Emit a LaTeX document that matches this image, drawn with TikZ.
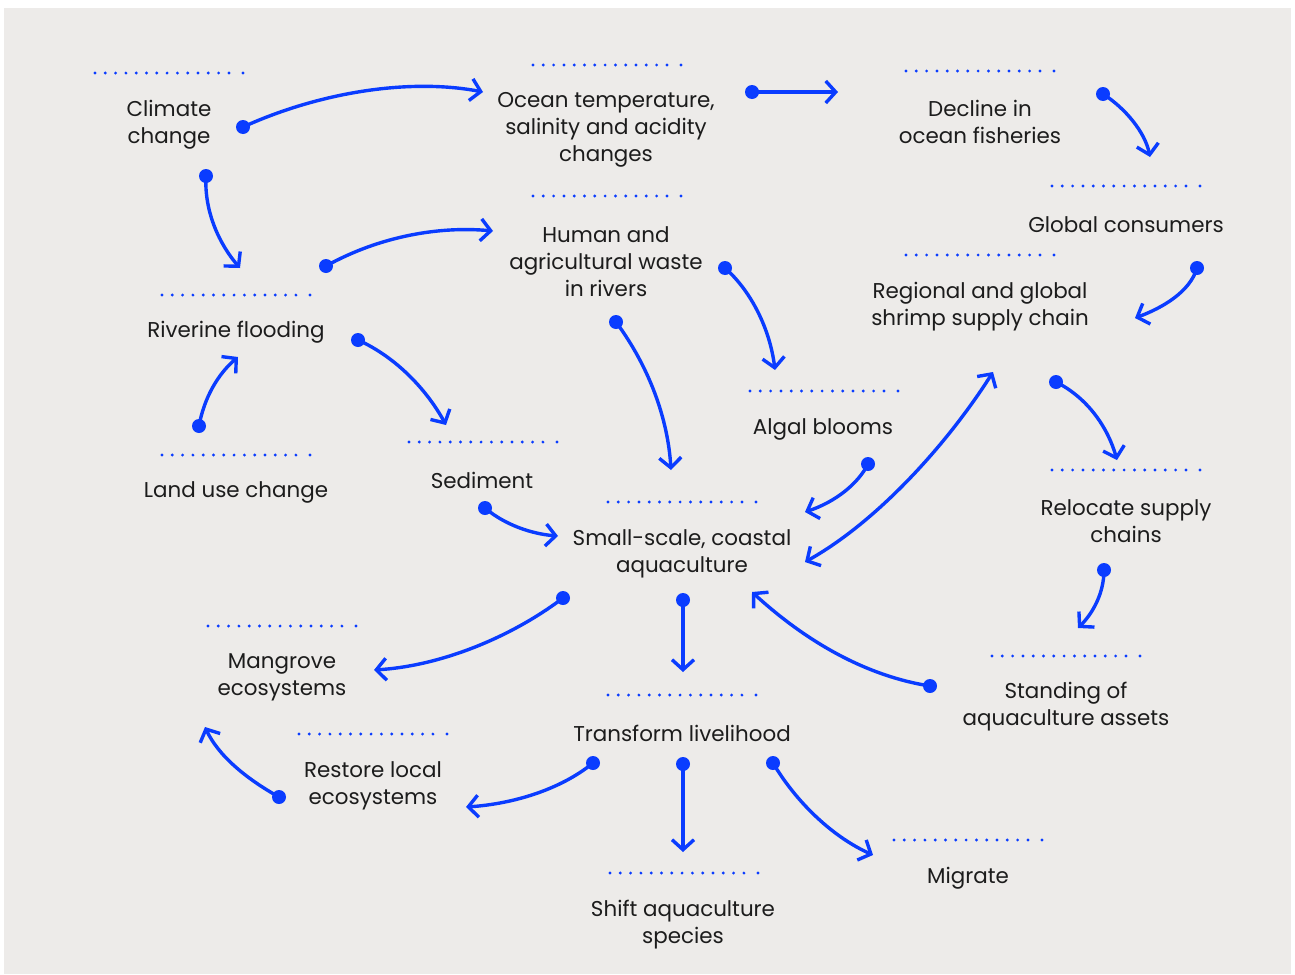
\documentclass[tikz,border=0pt]{standalone}
\usepackage{fontspec}
\setmainfont{Poppins}
\usetikzlibrary{arrows.meta}
\definecolor{bg}{HTML}{EDEBE9}
\definecolor{lk}{HTML}{0A3CFF}
\definecolor{tx}{HTML}{1C1C1C}
\begin{document}
\begin{tikzpicture}[x=1bp,y=-1bp,
  lbl/.style={align=center,text=tx,font=\fontsize{21.5}{27}\selectfont,inner sep=0pt,yshift=-2.5bp},
  conn/.style={draw=lk,line width=3.4bp,-{Straight Barb[length=10bp,width=22bp]}},
  both/.style={draw=lk,line width=3.4bp,{Straight Barb[length=10bp,width=22bp]}-{Straight Barb[length=10bp,width=22bp]}},
  dotrow/.pic={\foreach \i in {0,...,13}{\fill[lk] (-74+\i*10.3,0) circle (1.6);}\fill[lk] (74,0) circle (1.6);}
]
\useasboundingbox (0,0) rectangle (1295,975);
\fill[white] (0,0) rectangle (1295,975);
\fill[bg] (4,8) rectangle (1291,974);

% nodes
\node[lbl] (cc) at (169,122) {Climate\\change};
\node[lbl] (ot) at (606,127) {Ocean temperature,\\salinity and acidity\\changes};
\node[lbl] (df) at (980,119) {Decline in\\ocean fisheries};
\node[lbl] (gc) at (1126,222) {Global consumers};
\node[lbl] (rg) at (980,304) {Regional and global\\shrimp supply chain};
\node[lbl] (hw) at (606,259) {Human and\\agricultural waste\\in rivers};
\node[lbl] (rf) at (236,330) {Riverine flooding};
\node[lbl] (lu) at (236,490) {Land use change};
\node[lbl] (se) at (482,478) {Sediment};
\node[lbl] (ab) at (823,427) {Algal blooms};
\node[lbl] (sc) at (682,551) {Small-scale, coastal\\aquaculture};
\node[lbl] (rs) at (1126,519) {Relocate supply\\chains};
\node[lbl] (sa) at (1066,704) {Standing of\\aquaculture assets};
\node[lbl] (mg) at (282,675) {Mangrove\\ecosystems};
\node[lbl] (rl) at (373,783) {Restore local\\ecosystems};
\node[lbl] (tl) at (682,731) {Transform livelihood};
\node[lbl] (mi) at (968,876) {Migrate};
\node[lbl] (sh) at (683,922) {Shift aquaculture\\species};

% dotted rows
\pic at (169,73) {dotrow};
\pic at (607,65) {dotrow};
\pic at (980,71) {dotrow};
\pic at (1126,186) {dotrow};
\pic at (980,255) {dotrow};
\pic at (607,196) {dotrow};
\pic at (236,295) {dotrow};
\pic at (236,455) {dotrow};
\pic at (483,442) {dotrow};
\pic at (824,391) {dotrow};
\pic at (682,502) {dotrow};
\pic at (1126,470) {dotrow};
\pic at (1066,656) {dotrow};
\pic at (282,626) {dotrow};
\pic at (373,734) {dotrow};
\pic at (682,695) {dotrow};
\pic at (968,840) {dotrow};
\pic at (684,873) {dotrow};

% connector end points
\coordinate (a1s) at (243,127);  \coordinate (a1e) at (483,92);
\coordinate (a2s) at (752,92);   \coordinate (a2e) at (838,92);
\coordinate (a3s) at (1103,94);  \coordinate (a3e) at (1150,157);
\coordinate (a4s) at (1197,268); \coordinate (a4e) at (1135,318);
\coordinate (a5s) at (206,176);  \coordinate (a5e) at (240,268);
\coordinate (a6s) at (326,266);  \coordinate (a6e) at (493,231);
\coordinate (a7s) at (616,322);  \coordinate (a7e) at (671,470);
\coordinate (a8s) at (725,268);  \coordinate (a8e) at (775,370);
\coordinate (a9s) at (358,340);  \coordinate (a9e) at (446,425);
\coordinate (a10s) at (199,426); \coordinate (a10e) at (238,357);
\coordinate (a11s) at (485,508); \coordinate (a11e) at (558,536);
\coordinate (a12s) at (868,464); \coordinate (a12e) at (805,512);
\coordinate (a13s) at (805,562); \coordinate (a13e) at (993,372);
\coordinate (a14s) at (1056,382); \coordinate (a14e) at (1117,460);
\coordinate (a15s) at (1104,570); \coordinate (a15e) at (1078,628);
\coordinate (a16s) at (930,686); \coordinate (a16e) at (752,592);
\coordinate (a17s) at (563,598); \coordinate (a17e) at (374,670);
\coordinate (a18s) at (683,600); \coordinate (a18e) at (683,672);
\coordinate (a19s) at (279,797); \coordinate (a19e) at (205,727);
\coordinate (a20s) at (593,763); \coordinate (a20e) at (466,807);
\coordinate (a21s) at (683,764); \coordinate (a21e) at (683,852);
\coordinate (a22s) at (773,763); \coordinate (a22e) at (873,855);

% connectors
\draw[conn] (a1s) .. controls (320,92) and (410,78) .. (a1e);
\draw[conn] (a2s) -- (a2e);
\draw[conn] (a3s) .. controls (1125,108) and (1145,132) .. (a3e);
\draw[conn] (a4s) .. controls (1190,292) and (1162,308) .. (a4e);
\draw[conn] (a5s) .. controls (204,212) and (220,245) .. (a5e);
\draw[conn] (a6s) .. controls (380,236) and (440,226) .. (a6e);
\draw[conn] (a7s) .. controls (650,368) and (668,420) .. (a7e);
\draw[conn] (a8s) .. controls (752,292) and (770,330) .. (a8e);
\draw[conn] (a9s) .. controls (398,358) and (428,392) .. (a9e);
\draw[conn] (a10s) .. controls (204,398) and (218,374) .. (a10e);
\draw[conn] (a11s) .. controls (505,525) and (532,534) .. (a11e);
\draw[conn] (a12s) .. controls (858,484) and (835,502) .. (a12e);
\draw[both] (a13s) .. controls (880,520) and (950,440) .. (a13e);
\draw[conn] (a14s) .. controls (1088,398) and (1108,428) .. (a14e);
\draw[conn] (a15s) .. controls (1104,594) and (1092,614) .. (a15e);
\draw[conn] (a16s) .. controls (860,675) and (800,636) .. (a16e);
\draw[conn] (a17s) .. controls (510,638) and (440,666) .. (a17e);
\draw[conn] (a18s) -- (a18e);
\draw[conn] (a19s) .. controls (245,778) and (218,755) .. (a19e);
\draw[conn] (a20s) .. controls (560,790) and (512,804) .. (a20e);
\draw[conn] (a21s) -- (a21e);
\draw[conn] (a22s) .. controls (798,805) and (835,838) .. (a22e);

% start dots
\foreach \p in {a1s,a2s,a3s,a4s,a5s,a6s,a7s,a8s,a9s,a10s,a11s,a12s,a14s,a15s,a16s,a17s,a18s,a19s,a20s,a21s,a22s}
  \fill[lk] (\p) circle (7);
\end{tikzpicture}
\end{document}
